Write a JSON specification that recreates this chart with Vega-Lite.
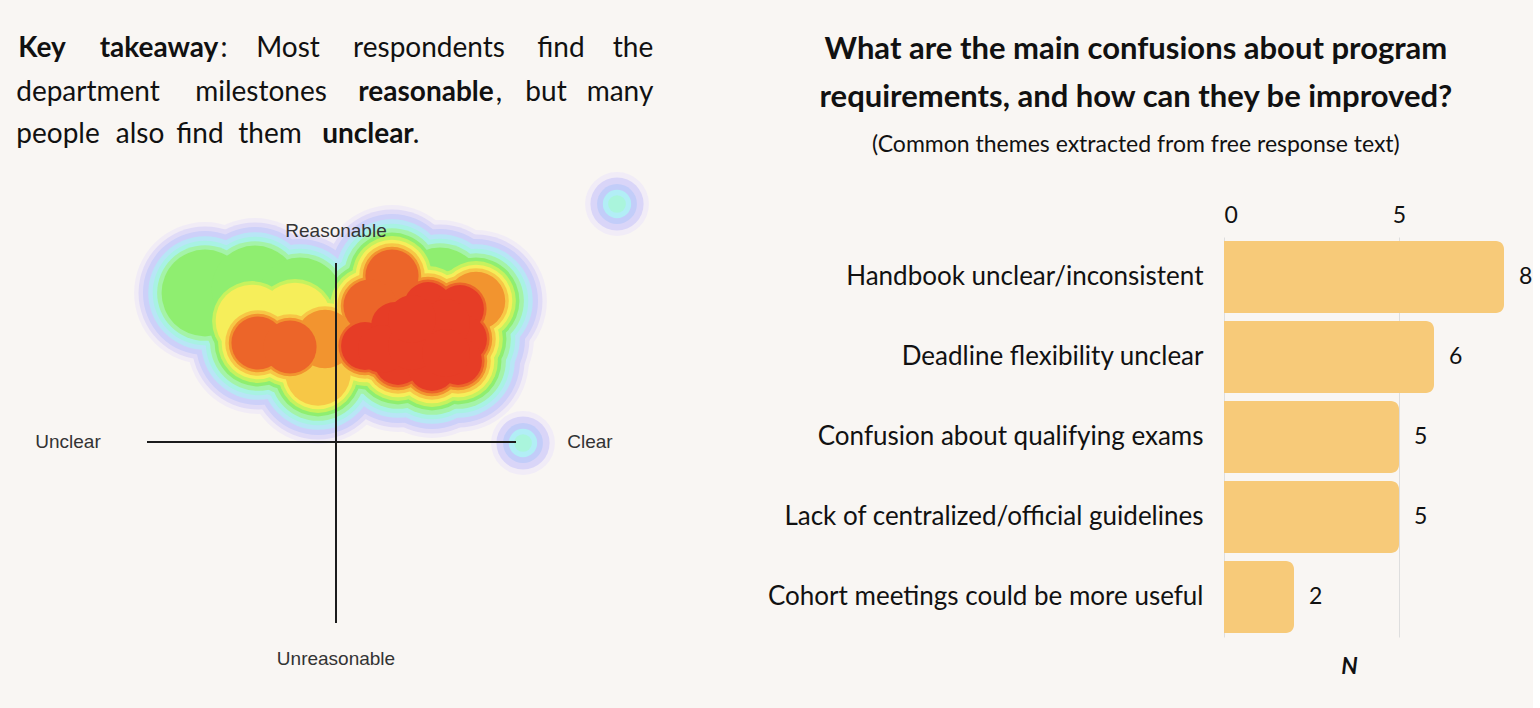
{
  "$schema": "https://vega.github.io/schema/vega-lite/v6.json",
  "background": "#f9f6f3",
  "padding": {"left": 0, "top": 34, "right": 0, "bottom": 0},
  "spacing": 87,
  "datasets": {
    "heat": [
      {"kind": "main", "x": 365, "y": 345, "level": 13},
      {"kind": "main", "x": 395, "y": 325, "level": 13},
      {"kind": "main", "x": 398, "y": 360, "level": 13},
      {"kind": "main", "x": 428, "y": 305, "level": 13},
      {"kind": "main", "x": 430, "y": 340, "level": 13},
      {"kind": "main", "x": 432, "y": 366, "level": 13},
      {"kind": "main", "x": 460, "y": 308, "level": 13},
      {"kind": "main", "x": 463, "y": 338, "level": 13},
      {"kind": "main", "x": 458, "y": 360, "level": 13},
      {"kind": "main", "x": 382, "y": 348, "level": 13},
      {"kind": "main", "x": 412, "y": 345, "level": 13},
      {"kind": "main", "x": 446, "y": 322, "level": 13},
      {"kind": "main", "x": 446, "y": 352, "level": 13},
      {"kind": "main", "x": 412, "y": 318, "level": 13},
      {"kind": "main", "x": 392, "y": 275, "level": 12},
      {"kind": "main", "x": 370, "y": 305, "level": 12},
      {"kind": "main", "x": 258, "y": 342, "level": 12},
      {"kind": "main", "x": 290, "y": 346, "level": 12},
      {"kind": "main", "x": 325, "y": 338, "level": 11},
      {"kind": "main", "x": 476, "y": 300, "level": 11},
      {"kind": "main", "x": 318, "y": 372, "level": 10},
      {"kind": "main", "x": 252, "y": 320, "level": 9},
      {"kind": "main", "x": 295, "y": 318, "level": 9},
      {"kind": "main", "x": 440, "y": 290, "level": 7},
      {"kind": "main", "x": 205, "y": 292, "level": 7},
      {"kind": "main", "x": 255, "y": 288, "level": 7},
      {"kind": "main", "x": 300, "y": 300, "level": 7},
      {"kind": "spot", "x": 617, "y": 203, "level": 5},
      {"kind": "spot", "x": 523, "y": 442, "level": 5}
    ],
    "cross": [
      {"x": 147, "x2": 516, "y": 441, "y2": 441},
      {"x": 336, "x2": 336, "y": 262, "y2": 622}
    ],
    "poles": [
      {"label": "Reasonable", "x": 336, "y": 230},
      {"label": "Unclear", "x": 68, "y": 441},
      {"label": "Clear", "x": 590, "y": 441},
      {"label": "Unreasonable", "x": 336, "y": 658}
    ],
    "words": [
      {"word": "Key", "bold": "yes", "x": 42, "y": 48},
      {"word": "takeaway", "bold": "yes", "x": 159, "y": 48},
      {"word": ":", "bold": "no", "x": 224, "y": 48},
      {"word": "Most", "bold": "no", "x": 288, "y": 48},
      {"word": "respondents", "bold": "no", "x": 429, "y": 48},
      {"word": "find", "bold": "no", "x": 561, "y": 48},
      {"word": "the", "bold": "no", "x": 633, "y": 48},
      {"word": "department", "bold": "no", "x": 88, "y": 92},
      {"word": "milestones", "bold": "no", "x": 261, "y": 92},
      {"word": "reasonable", "bold": "yes", "x": 426, "y": 92},
      {"word": ",", "bold": "no", "x": 499, "y": 92},
      {"word": "but", "bold": "no", "x": 546, "y": 92},
      {"word": "many", "bold": "no", "x": 620, "y": 92},
      {"word": "people", "bold": "no", "x": 58, "y": 134},
      {"word": "also", "bold": "no", "x": 140, "y": 134},
      {"word": "find", "bold": "no", "x": 200, "y": 134},
      {"word": "them", "bold": "no", "x": 270, "y": 134},
      {"word": "unclear", "bold": "yes", "x": 368, "y": 134},
      {"word": ".", "bold": "no", "x": 416, "y": 134}
    ],
    "themes": [
      {"theme": "Handbook unclear/inconsistent", "n": 8},
      {"theme": "Deadline flexibility unclear", "n": 6},
      {"theme": "Confusion about qualifying exams", "n": 5},
      {"theme": "Lack of centralized/official guidelines", "n": 5},
      {"theme": "Cohort meetings could be more useful", "n": 2}
    ]
  },
  "hconcat": [
    {
      "width": 680,
      "height": 472,
      "encoding": {
        "x": {"field": "x", "type": "quantitative", "scale": {"domain": [0, 680]}, "axis": null},
        "y": {"field": "y", "type": "quantitative", "scale": {"domain": [236, 708], "reverse": true}, "axis": null}
      },
      "layer": [
        {"data": {"name": "heat"}, "transform": [{"filter": "datum.kind == 'main' && datum.level >= 1"}], "mark": {"type": "circle", "size": 20106, "color": "#f1ecf6", "opacity": 1}},
        {"data": {"name": "heat"}, "transform": [{"filter": "datum.kind == 'main' && datum.level >= 2"}], "mark": {"type": "circle", "size": 17671, "color": "#e0dbf7", "opacity": 1}},
        {"data": {"name": "heat"}, "transform": [{"filter": "datum.kind == 'main' && datum.level >= 3"}], "mark": {"type": "circle", "size": 15394, "color": "#cdd0f9", "opacity": 1}},
        {"data": {"name": "heat"}, "transform": [{"filter": "datum.kind == 'main' && datum.level >= 4"}], "mark": {"type": "circle", "size": 12868, "color": "#b8e6f6", "opacity": 1}},
        {"data": {"name": "heat"}, "transform": [{"filter": "datum.kind == 'main' && datum.level >= 5"}], "mark": {"type": "circle", "size": 10936, "color": "#a8f2e4", "opacity": 1}},
        {"data": {"name": "heat"}, "transform": [{"filter": "datum.kind == 'main' && datum.level >= 6"}], "mark": {"type": "circle", "size": 9161, "color": "#a4f3a8", "opacity": 1}},
        {"data": {"name": "heat"}, "transform": [{"filter": "datum.kind == 'main' && datum.level >= 7"}], "mark": {"type": "circle", "size": 7543, "color": "#8fee70", "opacity": 1}},
        {"data": {"name": "heat"}, "transform": [{"filter": "datum.kind == 'main' && datum.level >= 8"}], "mark": {"type": "circle", "size": 6362, "color": "#c6f25e", "opacity": 1}},
        {"data": {"name": "heat"}, "transform": [{"filter": "datum.kind == 'main' && datum.level >= 9"}], "mark": {"type": "circle", "size": 5281, "color": "#f6ee5a", "opacity": 1}},
        {"data": {"name": "heat"}, "transform": [{"filter": "datum.kind == 'main' && datum.level >= 10"}], "mark": {"type": "circle", "size": 4301, "color": "#f7c746", "opacity": 1}},
        {"data": {"name": "heat"}, "transform": [{"filter": "datum.kind == 'main' && datum.level >= 11"}], "mark": {"type": "circle", "size": 3421, "color": "#f2942f", "opacity": 1}},
        {"data": {"name": "heat"}, "transform": [{"filter": "datum.kind == 'main' && datum.level >= 12"}], "mark": {"type": "circle", "size": 2827, "color": "#ec6529", "opacity": 1}},
        {"data": {"name": "heat"}, "transform": [{"filter": "datum.kind == 'main' && datum.level >= 13"}], "mark": {"type": "circle", "size": 2290, "color": "#e63d26", "opacity": 1}},
        {"data": {"name": "heat"}, "transform": [{"filter": "datum.kind == 'spot'"}], "mark": {"type": "circle", "size": 4072, "color": "#f1ecf7", "opacity": 1}},
        {"data": {"name": "heat"}, "transform": [{"filter": "datum.kind == 'spot'"}], "mark": {"type": "circle", "size": 2827, "color": "#d9d5f8", "opacity": 1}},
        {"data": {"name": "heat"}, "transform": [{"filter": "datum.kind == 'spot'"}], "mark": {"type": "circle", "size": 1590, "color": "#c2cdf9", "opacity": 1}},
        {"data": {"name": "heat"}, "transform": [{"filter": "datum.kind == 'spot'"}], "mark": {"type": "circle", "size": 804, "color": "#b2eef6", "opacity": 1}},
        {"data": {"name": "heat"}, "transform": [{"filter": "datum.kind == 'spot'"}], "mark": {"type": "circle", "size": 314, "color": "#aaf5dc", "opacity": 1}},
        {
          "data": {"name": "cross"},
          "mark": {"type": "rule", "color": "#1c1c1c", "strokeWidth": 2},
          "encoding": {"x2": {"field": "x2"}, "y2": {"field": "y2"}}
        },
        {
          "data": {"name": "poles"},
          "mark": {"type": "text", "font": "Liberation Sans", "fontSize": 19, "color": "#333333", "align": "center", "baseline": "middle"},
          "encoding": {"text": {"field": "label"}}
        },
        {
          "data": {"name": "words"},
          "transform": [{"filter": "datum.bold == 'yes'"}],
          "mark": {"type": "text", "font": "Lato", "fontSize": 28, "fontWeight": "bold", "color": "#111111", "align": "center", "baseline": "middle"},
          "encoding": {"text": {"field": "word"}}
        },
        {
          "data": {"name": "words"},
          "transform": [{"filter": "datum.bold == 'no'"}],
          "mark": {"type": "text", "font": "Lato", "fontSize": 28, "color": "#111111", "align": "center", "baseline": "middle"},
          "encoding": {"text": {"field": "word"}}
        }
      ]
    },
    {
      "width": 280,
      "height": 400,
      "data": {"name": "themes"},
      "title": {
        "text": ["What are the main confusions about program", "requirements, and how can they be improved?"],
        "subtitle": "(Common themes extracted from free response text)",
        "font": "Lato",
        "fontSize": 31,
        "fontWeight": "bold",
        "color": "#111111",
        "lineHeight": 48,
        "subtitleFont": "Lato",
        "subtitleFontSize": 23,
        "subtitleColor": "#111111",
        "subtitlePadding": 20,
        "anchor": "middle",
        "frame": "bounds",
        "dx": -14,
        "offset": 46
      },
      "encoding": {
        "y": {
          "field": "theme",
          "type": "nominal",
          "sort": null,
          "scale": {"paddingInner": 0.1, "paddingOuter": 0.05},
          "axis": {"title": null, "ticks": false, "domain": false, "labelFont": "Lato", "labelFontSize": 26, "labelColor": "#111111", "labelPadding": 21, "labelLimit": 700}
        }
      },
      "layer": [
        {
          "mark": {"type": "bar", "color": "#f7ca79", "cornerRadiusEnd": 8},
          "encoding": {
            "x": {
              "field": "n",
              "type": "quantitative",
              "scale": {"domain": [0, 8]},
              "axis": {"orient": "top", "values": [0, 5], "title": null, "ticks": false, "domain": false, "grid": true, "gridColor": "#dedede", "labelFont": "Lato", "labelFontSize": 23, "labelColor": "#111111", "labelPadding": 10}
            }
          }
        },
        {
          "mark": {"type": "text", "align": "left", "baseline": "middle", "dx": 15, "font": "Lato", "fontSize": 23, "color": "#111111"},
          "encoding": {
            "x": {
              "field": "n",
              "type": "quantitative",
              "axis": {"orient": "bottom", "title": "N", "labels": false, "ticks": false, "domain": false, "grid": false, "titleFont": "Lato", "titleFontSize": 23, "titleFontStyle": "italic", "titleFontWeight": "bold", "titleColor": "#111111", "titlePadding": 18, "titleX": 125}
            },
            "text": {"field": "n", "type": "quantitative"}
          }
        }
      ],
      "resolve": {"axis": {"x": "independent"}}
    }
  ],
  "config": {"view": {"stroke": null}, "font": "Lato"}
}
